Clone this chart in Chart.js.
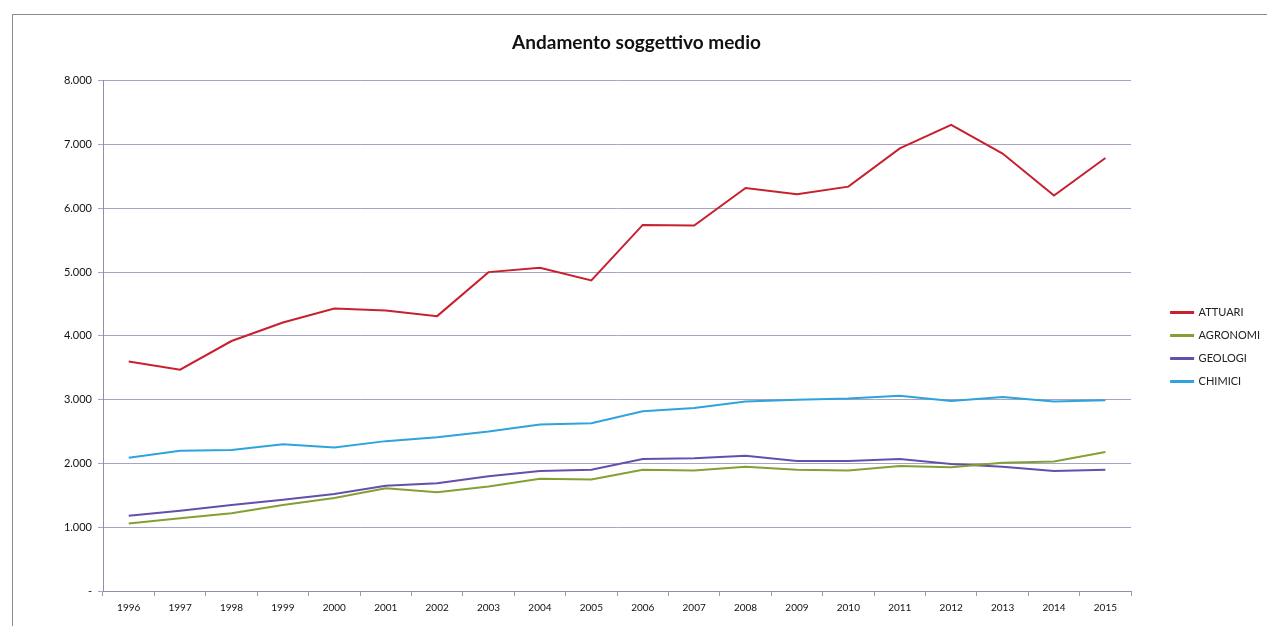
<!DOCTYPE html>
<html>
<head>
<meta charset="utf-8">
<script src="https://cdn.jsdelivr.net/npm/chart.js@4/dist/chart.umd.min.js"></script>
<style>
  html, body { margin: 0; padding: 0; background: #fff; overflow: hidden; }
  #wrap { position: relative; width: 1267px; height: 626px; }
  #frame { position: absolute; left: 12px; top: 14px; width: 1300px; height: 700px; border: 1px solid #8a8a8a; pointer-events: none; }
  canvas { position: absolute; left: 0; top: 0; }
</style>
</head>
<body>
<div id="wrap">
  <canvas id="chart" width="1267" height="626"></canvas>
  <div id="frame"></div>
</div>
<script>
const years = ['1996','1997','1998','1999','2000','2001','2002','2003','2004','2005',
               '2006','2007','2008','2009','2010','2011','2012','2013','2014','2015'];
const attuari  = [3600, 3470, 3920, 4210, 4430, 4400, 4310, 5000, 5070, 4870,
                  5740, 5730, 6320, 6220, 6340, 6940, 7310, 6860, 6200, 6790];
const agronomi = [1060, 1140, 1220, 1350, 1460, 1610, 1550, 1640, 1760, 1750,
                  1900, 1890, 1950, 1900, 1890, 1960, 1940, 2010, 2030, 2180];
const geologi  = [1180, 1260, 1350, 1430, 1520, 1650, 1690, 1800, 1880, 1900,
                  2070, 2080, 2120, 2040, 2040, 2070, 1990, 1950, 1880, 1900];
const chimici  = [2090, 2200, 2210, 2300, 2250, 2350, 2410, 2500, 2610, 2630,
                  2820, 2870, 2970, 3000, 3020, 3060, 2980, 3040, 2970, 2990];
const yTicks = [0, 1000, 2000, 3000, 4000, 5000, 6000, 7000, 8000];

function line(label, data, color) {
  return {
    label: label,
    data: data,
    borderColor: color,
    backgroundColor: color,
    borderWidth: 2,
    pointRadius: 0,
    tension: 0
  };
}

// leave a wider gap between the plot and the legend, and nudge the legend down
const legendGap = {
  id: 'legendGap',
  beforeInit(chart) {
    const fit = chart.legend.fit;
    chart.legend.fit = function() {
      fit.call(this);
      this.width += 11;
    };
  },
  afterLayout(chart) {
    const lg = chart.legend;
    lg.left += 28; lg.right += 28;
    lg.top += 37; lg.bottom += 37;
  }
};

const ctx = document.getElementById('chart');
new Chart(ctx, {
  type: 'line',
  data: {
    labels: years,
    datasets: [
      line('ATTUARI', attuari, '#c8202e'),
      line('AGRONOMI', agronomi, '#84a035'),
      line('GEOLOGI', geologi, '#6450ac'),
      line('CHIMICI', chimici, '#2ea3dc')
    ]
  },
  options: {
    responsive: false,
    animation: false,
    layout: { padding: { left: 20, right: 14, top: 0, bottom: 6 } },
    plugins: {
      title: {
        display: true,
        text: 'Andamento soggettivo medio',
        color: '#111',
        font: { family: 'Lato', size: 19, weight: 'bold' },
        padding: { top: 31, bottom: 27 }
      },
      legend: {
        position: 'right',
        labels: {
          boxWidth: 22,
          boxHeight: 1,
          padding: 12,
          color: '#222',
          font: { family: 'Lato', size: 11 }
        }
      },
      tooltip: { enabled: false }
    },
    scales: {
      x: {
        offset: true,
        grid: {
          offset: true,
          drawOnChartArea: false,
          drawTicks: true,
          tickLength: 5,
          color: '#9a9ab0'
        },
        border: { color: '#8f8fa8', width: 1 },
        ticks: {
          color: '#111',
          font: { family: 'Lato', size: 10 },
          maxRotation: 0,
          autoSkip: false,
          padding: 6
        }
      },
      y: {
        min: 0,
        max: 8000,
        afterBuildTicks: function(scale) {
          scale.ticks = yTicks.map(v => ({ value: v }));
        },
        afterFit: function(scale) { scale.width = 83; },
        grid: {
          color: '#a4a4c4',
          lineWidth: 1,
          tickLength: 5
        },
        border: { color: '#8f8fa8', width: 1 },
        ticks: {
          color: '#111',
          font: { family: 'Lato', size: 11 },
          padding: 6,
          callback: function(v) {
            return v === 0 ? '-' : (v / 1000) + '.000';
          }
        }
      }
    }
  },
  plugins: [legendGap]
});
</script>
</body>
</html>
